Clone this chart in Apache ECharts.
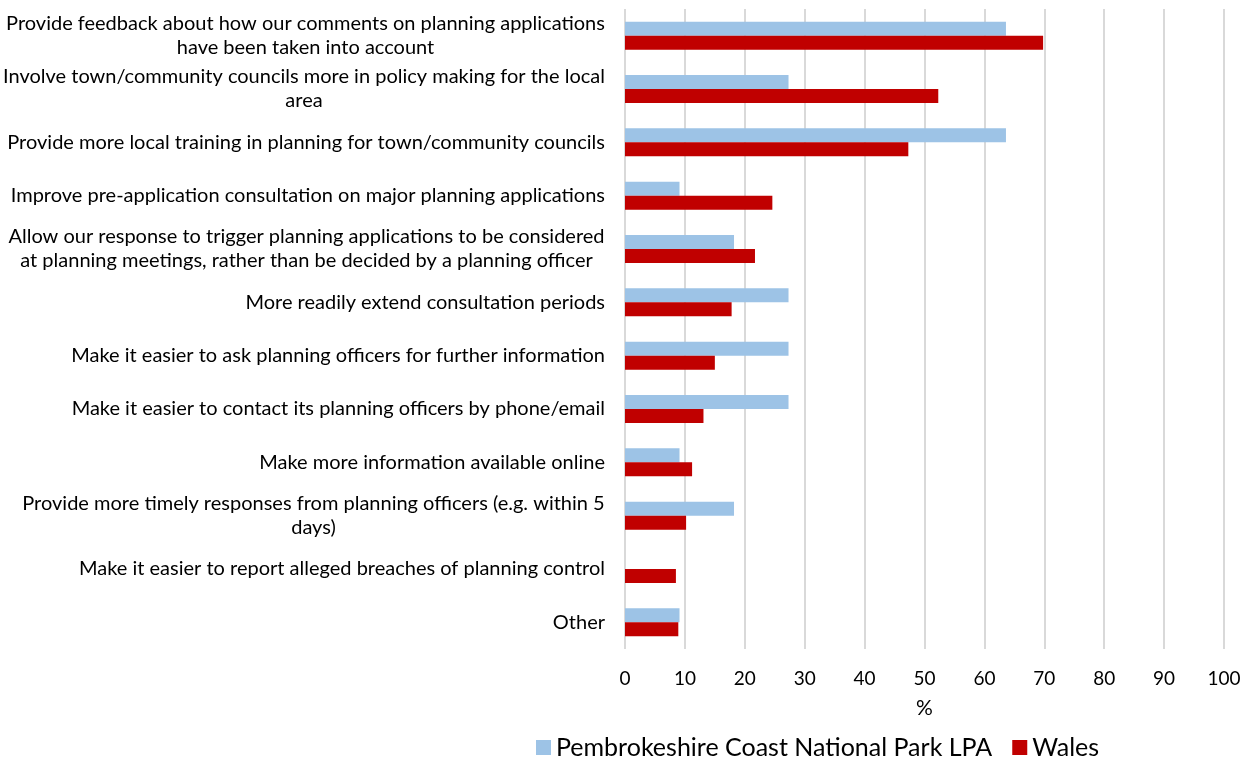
<!DOCTYPE html>
<html>
<head>
<meta charset="utf-8">
<title>Ways to improve planning engagement</title>
<script src="https://cdn.jsdelivr.net/npm/echarts@6/dist/echarts.min.js"></script>
<style>
  html, body { margin: 0; padding: 0; background: #ffffff; }
  #chart { width: 1245px; height: 758px; }
</style>
</head>
<body>
<div id="chart"></div>
<script>
// Survey suggestions (top to bottom), with explicit line breaks where labels wrap
const categories = [
  'Provide feedback about how our comments on planning applications\nhave been taken into account',
  'Involve town/community councils more in policy making for the local\narea',
  'Provide more local training in planning for town/community councils',
  'Improve pre-application consultation on major planning applications',
  'Allow our response to trigger planning applications to be considered\nat planning meetings, rather than be decided by a planning officer',
  'More readily extend consultation periods',
  'Make it easier to ask planning officers for further information',
  'Make it easier to contact its planning officers by phone/email',
  'Make more information available online',
  'Provide more timely responses from planning officers (e.g. within 5\ndays)',
  'Make it easier to report alleged breaches of planning control',
  'Other'
];

const seriesNames = ['Pembrokeshire Coast National Park LPA', 'Wales'];

// Percent of respondents
const pembrokeshire = [63.6, 27.3, 63.6, 9.1, 18.2, 27.3, 27.3, 27.3, 9.1, 18.2, 0, 9.1];
const wales         = [69.8, 52.3, 47.3, 24.6, 21.7, 17.8, 15.0, 13.1, 11.2, 10.2, 8.5, 8.9];

const xTicks = { min: 0, max: 100, interval: 10 };

const FONT = 'Lato, "Open Sans", sans-serif';
const LABEL_SIZE = 20;

// Multi-line labels: centre each line within a block as wide as its longest line
const measureCtx = document.createElement('canvas').getContext('2d');
measureCtx.font = LABEL_SIZE + 'px Lato';
const rich = {};
categories.forEach((c, i) => {
  const lines = c.split('\n');
  if (lines.length > 1) {
    const w = Math.ceil(Math.max(...lines.map(l => measureCtx.measureText(l).width)));
    rich['r' + i] = {
      width: w, align: 'center', fontFamily: FONT, fontSize: LABEL_SIZE,
      color: '#000000', lineHeight: 24
    };
  }
});

const chart = echarts.init(document.getElementById('chart'), null, { renderer: 'canvas' });

chart.setOption({
  animation: false,
  backgroundColor: '#ffffff',
  grid: { left: 624, right: 21, top: 9, bottom: 109, containLabel: false },
  legend: {
    data: seriesNames,
    left: 536,
    top: 735,
    padding: 0,
    itemWidth: 15,
    itemHeight: 15,
    itemGap: 20,
    icon: 'rect',
    textStyle: { fontFamily: FONT, fontSize: 25, color: '#000000' }
  },
  xAxis: {
    type: 'value',
    min: xTicks.min,
    max: xTicks.max,
    interval: xTicks.interval,
    name: '%',
    nameLocation: 'middle',
    nameGap: 49,
    nameTextStyle: { fontFamily: FONT, fontSize: 21, color: '#000000' },
    axisLine: { show: false },
    axisTick: { show: false },
    axisLabel: { fontFamily: FONT, fontSize: 19, color: '#000000', margin: 20 },
    splitLine: { show: true, lineStyle: { color: '#d9d9d9', width: 2 } }
  },
  yAxis: {
    type: 'category',
    inverse: true,
    data: categories,
    axisLine: { show: false },
    axisTick: { show: false },
    axisLabel: {
      fontFamily: FONT,
      fontSize: LABEL_SIZE,
      color: '#000000',
      margin: 20,
      lineHeight: 24,
      rich: rich,
      formatter: (value, idx) => {
        const lines = value.split('\n');
        if (lines.length === 1) return value;
        return lines.map(l => '{r' + idx + '|' + l + '}').join('\n');
      }
    }
  },
  series: [
    {
      name: seriesNames[0],
      type: 'bar',
      data: pembrokeshire,
      barWidth: 14,
      barGap: '0%',
      itemStyle: { color: '#9dc3e6' }
    },
    {
      name: seriesNames[1],
      type: 'bar',
      data: wales,
      barWidth: 14,
      barGap: '0%',
      itemStyle: { color: '#c00000' }
    }
  ]
});
</script>
</body>
</html>
